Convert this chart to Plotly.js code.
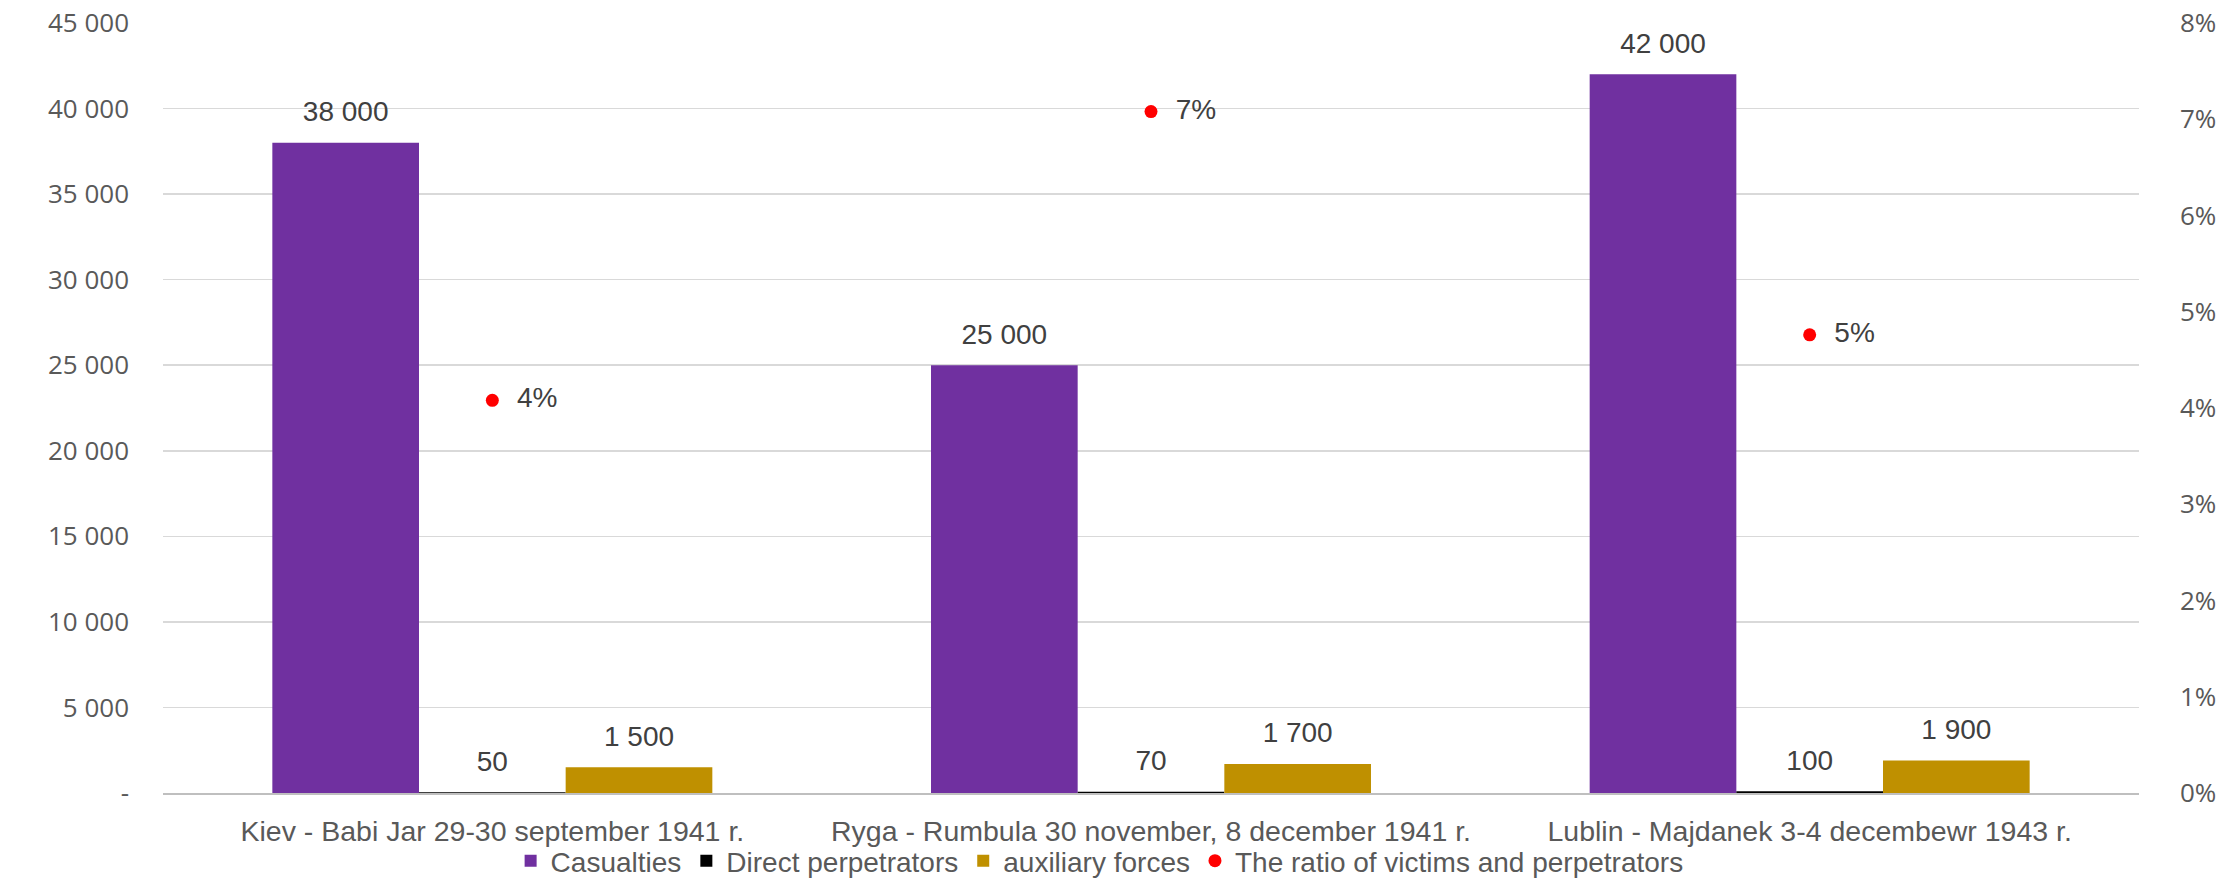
<!DOCTYPE html>
<html>
<head>
<meta charset="utf-8">
<script src="https://cdn.plot.ly/plotly-3.0.1.min.js"></script>
<style>html,body{margin:0;padding:0;background:#fff;}#chart{width:2228px;height:881px;}</style>
</head>
<body>
<div id="chart"></div>
<script>
const categories = [
  "Kiev - Babi Jar 29-30 september 1941 r.",
  "Ryga - Rumbula 30 november, 8 december 1941 r.",
  "Lublin - Majdanek 3-4 decembewr 1943 r."
];
const casualties = [38000, 25000, 42000];
const directPerpetrators = [50, 70, 100];
const auxiliaryForces = [1500, 1700, 1900];
const ratio = [0.0408, 0.0708, 0.0476];
const leftTickVals = [0, 5000, 10000, 15000, 20000, 25000, 30000, 35000, 40000, 45000];
const leftTickText = ["-", "5 000", "10 000", "15 000", "20 000", "25 000", "30 000", "35 000", "40 000", "45 000"];
const rightTickVals = [0, 0.01, 0.02, 0.03, 0.04, 0.05, 0.06, 0.07, 0.08];
const rightTickText = ["0%", "1%", "2%", "3%", "4%", "5%", "6%", "7%", "8%"];

const labelFamily = "Liberation Sans, Arial, sans-serif";
const labelFont = {family: labelFamily, size: 28, color: "#404040"};
const tickFont = {family: "Open Sans, sans-serif", size: 26, color: "#595959"};

const barCommon = {
  type: "bar",
  x: categories,
  textposition: "outside",
  texttemplate: '<span style="font-size:28px">%{y:,}</span><br>\u00a0',
  textfont: {family: labelFamily, size: 12, color: "#404040"},
  cliponaxis: false,
  constraintext: "none",
  hoverinfo: "skip"
};

const traces = [
  Object.assign({}, barCommon, {name: "Casualties", y: casualties, marker: {color: "#7030A0"}}),
  Object.assign({}, barCommon, {name: "Direct perpetrators", y: directPerpetrators, marker: {color: "#000000"}}),
  Object.assign({}, barCommon, {name: "auxiliary forces", y: auxiliaryForces, marker: {color: "#BF9000"}}),
  {
    type: "scatter",
    mode: "markers+text",
    name: "The ratio of victims and perpetrators",
    x: categories,
    y: ratio,
    yaxis: "y2",
    marker: {color: "#FF0000", size: 13},
    texttemplate: "\u00a0\u00a0%{y:.0%}",
    textposition: "middle right",
    textfont: labelFont,
    cliponaxis: false,
    hoverinfo: "skip"
  }
];

const layout = {
  width: 2228,
  height: 881,
  margin: {l: 163, r: 89, t: 23, b: 88},
  paper_bgcolor: "#ffffff",
  plot_bgcolor: "#ffffff",
  separators: ". ",
  barmode: "group",
  bargap: 0.332,
  bargroupgap: 0,
  showlegend: true,
  legend: {
    orientation: "h",
    x: 0.474,
    xanchor: "center",
    yref: "container",
    y: 0.0227,
    yanchor: "middle",
    bgcolor: "rgba(0,0,0,0)",
    font: {family: labelFamily, size: 28, color: "#595959"},
    traceorder: "normal"
  },
  xaxis: {
    type: "category",
    tickfont: {family: labelFamily, size: 28.5, color: "#595959"},
    showline: true,
    linecolor: "#BFBFBF",
    linewidth: 2,
    ticks: "",
    ticklabelstandoff: 12,
    showgrid: false,
    automargin: false
  },
  yaxis: {
    range: [0, 45000],
    tickvals: leftTickVals,
    ticktext: leftTickText,
    tickfont: tickFont,
    showgrid: true,
    gridcolor: "#D9D9D9",
    gridwidth: 1.5,
    zeroline: false,
    showline: false,
    ticks: "",
    ticklabelstandoff: 33,
    automargin: false
  },
  yaxis2: {
    overlaying: "y",
    side: "right",
    range: [0, 0.08],
    tickvals: rightTickVals,
    ticktext: rightTickText,
    tickfont: tickFont,
    showgrid: false,
    zeroline: false,
    showline: false,
    ticks: "",
    ticklabelstandoff: 40,
    automargin: false
  }
};

Plotly.newPlot("chart", traces, layout, {staticPlot: true, displayModeBar: false});
</script>
</body>
</html>
